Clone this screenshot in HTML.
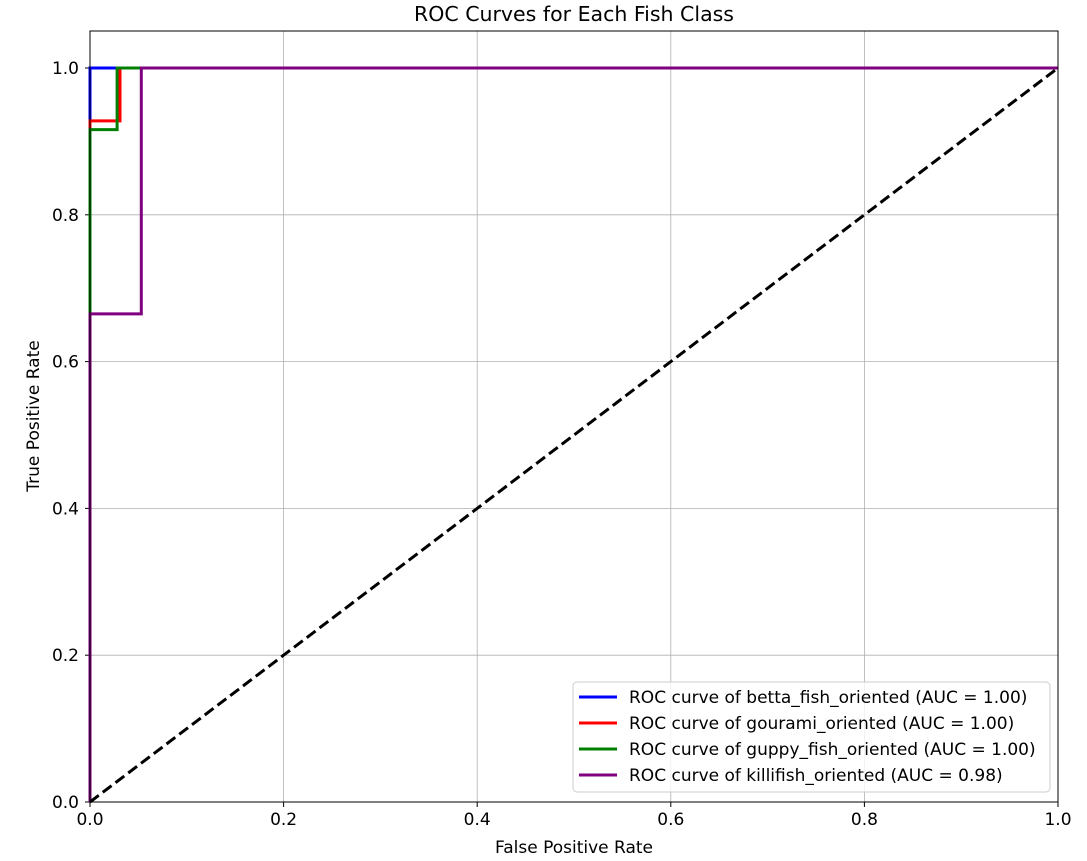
<!DOCTYPE html>
<html><head><meta charset="utf-8"><style>
html,body{margin:0;padding:0;background:#fff;}
svg{display:block;font-family:"DejaVu Sans","Liberation Sans",sans-serif;}
</style></head><body>
<svg id="chart" width="1087" height="861" xmlns="http://www.w3.org/2000/svg">
<rect width="1087" height="861" fill="#fff"/>
<text x="574" y="21" text-anchor="middle" font-size="20.5" fill="#000">ROC Curves for Each Fish Class</text>
<g id="grid"></g>
<g id="ticks"></g>
<g id="series"></g>
<rect x="90" y="31" width="968" height="771" fill="none" stroke="#000" stroke-width="1"/>
<text x="574" y="853" text-anchor="middle" font-size="17">False Positive Rate</text>
<text transform="translate(39,416) rotate(-90)" text-anchor="middle" font-size="17">True Positive Rate</text>
<g id="legend"></g>
</svg>
<script>
const classNames = ["betta_fish_oriented","gourami_oriented","guppy_fish_oriented","killifish_oriented"];
const aucValues = ["1.00","1.00","1.00","0.98"];
const colors = ["#0000ff","#ff0000","#008000","#800080"];
const fprBetta = [0,0,0,1];
const tprBetta = [0,0,1,1];
const fprGourami = [0,0,0.031,0.031,1];
const tprGourami = [0,0.928,0.928,1,1];
const fprGuppy = [0,0,0.028,0.028,1];
const tprGuppy = [0,0.916,0.916,1,1];
const fprKilli = [0,0,0.053,0.053,1];
const tprKilli = [0,0.665,0.665,1,1];
const xTicks = [0,0.2,0.4,0.6,0.8,1.0];
const yTicks = [0,0.2,0.4,0.6,0.8,1.0];
const xTickLabels = ["0.0","0.2","0.4","0.6","0.8","1.0"];
const yTickLabels = ["0.0","0.2","0.4","0.6","0.8","1.0"];

const NS="http://www.w3.org/2000/svg";
const X0=90,X1=1058,Y0=802,YS=734;
const sx=v=>X0+v*(X1-X0);
const sy=v=>Y0-v*YS;
function mk(tag,attrs,parent){const e=document.createElementNS(NS,tag);for(const k in attrs)e.setAttribute(k,attrs[k]);parent.appendChild(e);return e;}
const grid=document.getElementById('grid'),ticks=document.getElementById('ticks'),series=document.getElementById('series'),legend=document.getElementById('legend');
xTicks.forEach((t,i)=>{
  const g=mk('line',{x1:sx(t),x2:sx(t),y1:31,y2:802,stroke:'#b0b0b0','stroke-width':0.8},grid);
  
  
  const tk=mk('line',{x1:sx(t),x2:sx(t),y1:802,y2:807,stroke:'#000'},ticks);
  
  
  const tx=mk('text',{x:sx(t),y:825,'text-anchor':'middle','font-size':17},ticks);
  tx.textContent=xTickLabels[i];
  
  
});
yTicks.forEach((t,i)=>{
  const g=mk('line',{x1:90,x2:1058,y1:sy(t),y2:sy(t),stroke:'#b0b0b0','stroke-width':0.8},grid);
  
  
  const tk=mk('line',{x1:85,x2:90,y1:sy(t),y2:sy(t),stroke:'#000'},ticks);
  
  
  const tx=mk('text',{x:79,y:sy(t)+6,'text-anchor':'end','font-size':17},ticks);
  tx.textContent=yTickLabels[i];
  
  
});
const fprs=[fprBetta,fprGourami,fprGuppy,fprKilli],tprs=[tprBetta,tprGourami,tprGuppy,tprKilli];
fprs.forEach((f,i)=>{
  const pts=f.map((v,j)=>sx(v)+','+sy(tprs[i][j])).join(' ');
  const p=mk('polyline',{points:pts,fill:'none',stroke:colors[i],'stroke-width':3},series);
  
  
});
const d=mk('line',{x1:sx(0),y1:sy(0),x2:sx(1),y2:sy(1),stroke:'#000','stroke-width':3,'stroke-dasharray':'11,5'},series);


const box=mk('rect',{x:573,y:682,width:477,height:110,rx:4,fill:'#fff','fill-opacity':0.8,stroke:'#cccccc'},legend);


classNames.forEach((n,i)=>{
  const y=697+i*26;
  const l=mk('line',{x1:579,x2:617,y1:y,y2:y,stroke:colors[i],'stroke-width':3},legend);
  
  
  const t=mk('text',{x:629,y:y+6,'font-size':17},legend);
  t.textContent='ROC curve of '+n+' (AUC = '+aucValues[i]+')';
  
  
});
</script>
</body></html>
